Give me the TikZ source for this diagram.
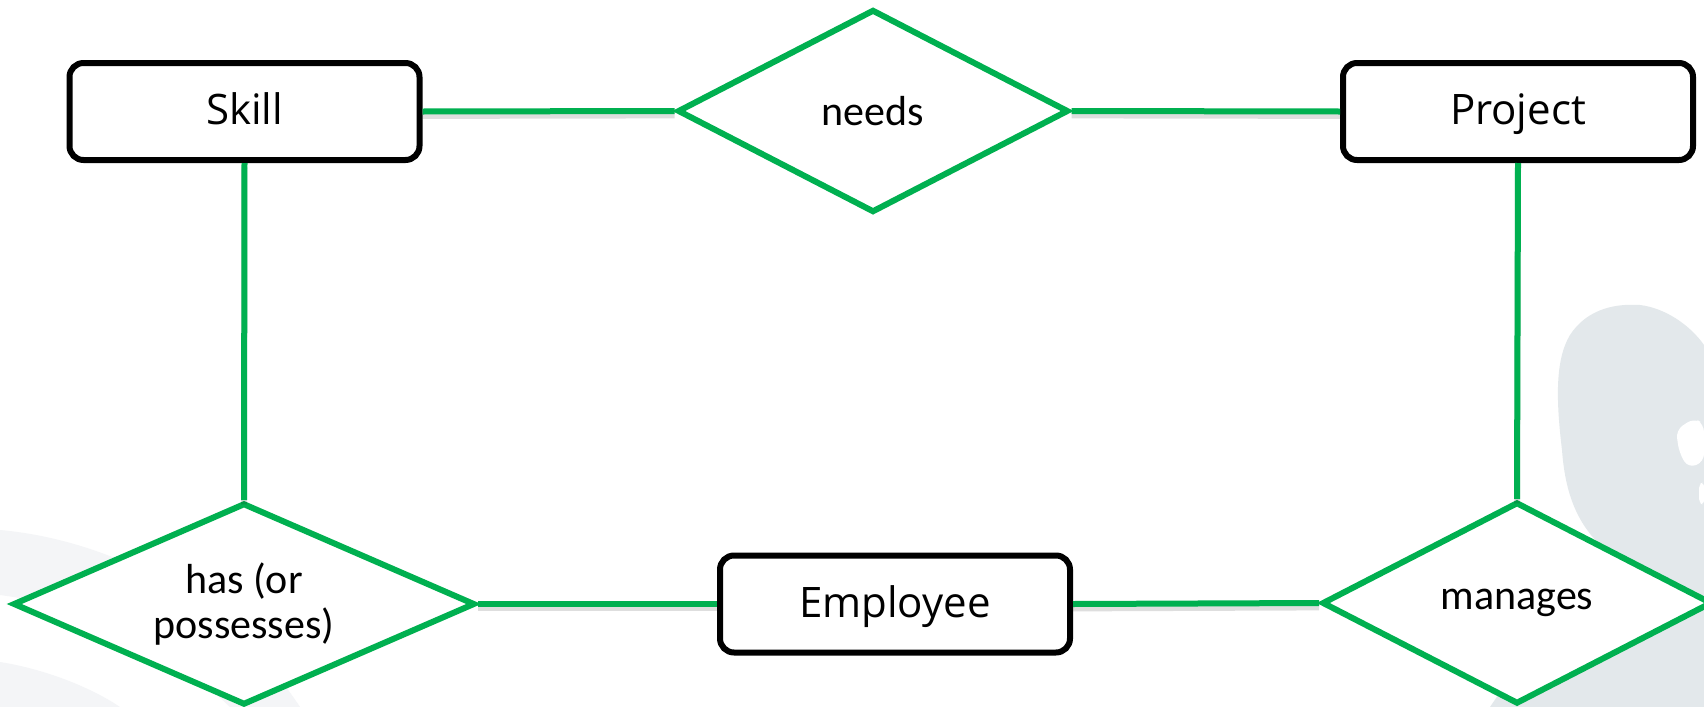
\documentclass[tikz,border=0pt]{standalone}
\usepackage{fontspec}
\setmainfont{Open Sans}
\newfontfamily\dfont{Carlito}
\usetikzlibrary{shapes.geometric}
\definecolor{ergreen}{HTML}{00B050}
\definecolor{silh}{HTML}{E3E8EB}
\definecolor{faintbg}{HTML}{F4F5F7}
\begin{document}
\begin{tikzpicture}[x=0.5pt,y=-0.5pt,
  entity/.style={draw=black, line width=3pt, rounded corners=7pt, fill=white,
    minimum width=175pt, minimum height=48.5pt, inner sep=0pt,
    text height=15.5pt, text depth=2.5pt,
    font=\fontsize{21}{25}\selectfont},
  rel/.style={diamond, draw=ergreen, line width=3pt, fill=white, inner sep=0pt,
    align=center, font=\dfont\fontsize{21}{22.5}\selectfont},
  link/.style={draw=ergreen, line width=3pt,
    preaction={draw=black, opacity=0.13, line width=3pt, transform canvas={yshift=-2.2pt}}}]
\useasboundingbox (0,0) rectangle (1704,707);
\fill[white] (0,0) rectangle (1704,707);
% faint background bands
\fill[faintbg] (0,530) .. controls (110,540) and (230,600) .. (300,707) -- (230,707)
  .. controls (170,650) and (80,605) .. (0,595) -- cycle;
\fill[faintbg] (0,662) .. controls (50,670) and (95,690) .. (120,707) -- (0,707) -- cycle;
% silhouette
\fill[silh] (1490,707) -- (1600,545) .. controls (1575,520) and (1565,490) .. (1562,450)
  .. controls (1556,400) and (1555,360) .. (1570,335)
  .. controls (1585,312) and (1610,303) .. (1640,305)
  .. controls (1665,308) and (1690,325) .. (1704,345) -- (1704,707) -- cycle;
\fill[white, rounded corners=4pt] (1676,430) -- (1694,418) -- (1704,424) -- (1704,462)
  -- (1688,468) -- (1679,452) -- cycle;
\fill[white, rounded corners=2pt] (1699,484) -- (1704,482) -- (1704,505) -- (1699,503) -- cycle;
% nodes
\node[entity] (skill) at (244.5,111.5) {Skill};
\node[entity] (project) at (1518,111.5) {Project};
\node[entity] (employee) at (895,604) {Employee};
\node[rel, aspect=1.93, minimum width=195.5pt, minimum height=101.5pt] (needs) at (873,111) {needs};
\node[rel, aspect=2.29, minimum width=231pt, minimum height=101pt] (has) at (244,604) {has (or\\possesses)};
\node[rel, aspect=1.93, minimum width=195pt, minimum height=101pt] (manages) at (1517,603) {manages};
% connectors
\draw[link] (skill.east) -- (needs.west);
\draw[link] (needs.east) -- (project.west);
\draw[link] (skill.south) -- (has.north);
\draw[link] (project.south) -- (manages.north);
\draw[link] (has.east) -- (employee.west);
\draw[link] (employee.east) -- (manages.west);
\end{tikzpicture}
\end{document}
